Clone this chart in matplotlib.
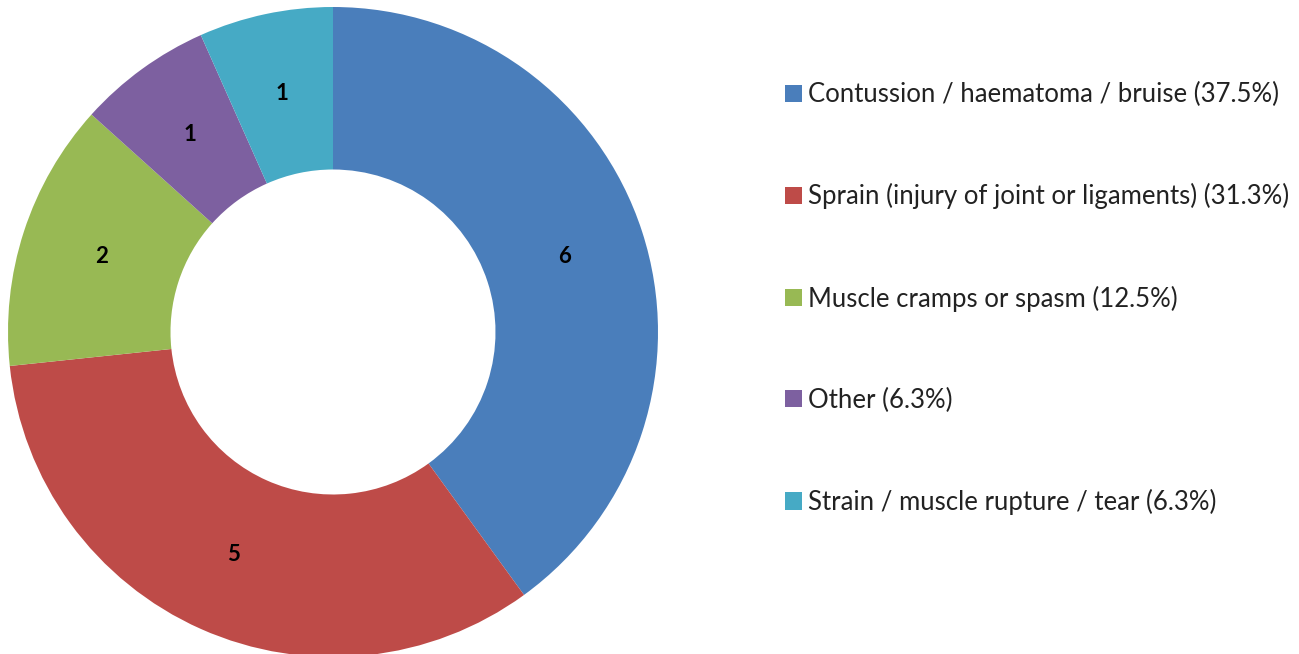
import matplotlib.pyplot as plt
from matplotlib.patches import Patch

# data
categories = ['Contussion / haematoma / bruise', 'Sprain (injury of joint or ligaments)',
              'Muscle cramps or spasm', 'Other', 'Strain / muscle rupture / tear']
counts = [6, 5, 2, 1, 1]
percents = ['37.5%', '31.3%', '12.5%', '6.3%', '6.3%']
colors = ['#4A7EBB', '#BE4B48', '#98B954', '#7D60A0', '#46AAC5']

plt.rcParams['font.family'] = ['Lato', 'DejaVu Sans']

fig = plt.figure(figsize=(12.99, 6.54), dpi=100)
W, H = 1299, 654
# pie axes in pixel coordinates: centre ~ (333, 332), radius ~325
cx, cy, R = 333, 332, 325
ax = fig.add_axes([(cx - R) / W, (H - cy - R) / H, 2 * R / W, 2 * R / H])

wedges, texts = ax.pie(counts, colors=colors, startangle=90, counterclock=False,
                       radius=1, labels=[str(c) for c in counts], labeldistance=0.75,
                       wedgeprops=dict(width=0.5, linewidth=0),
                       textprops=dict(fontsize=16, fontweight='bold', color='black',
                                      ha='center', va='center'))
ax.set_xlim(-1, 1)
ax.set_ylim(-1, 1)
ax.set_aspect('equal')
ax.axis('off')

handles = [Patch(facecolor=c, edgecolor='none') for c in colors]
labels = [f'{n} ({p})' for n, p in zip(categories, percents)]
fig.legend(handles, labels, loc='upper left', bbox_to_anchor=(762 / W, 1 - 59 / H),
           frameon=False, fontsize=18.5, labelspacing=2.96, handlelength=0.66,
           handleheight=0.66, handletextpad=0.24, labelcolor='#222222')

fig.savefig('out.png', dpi=100)
